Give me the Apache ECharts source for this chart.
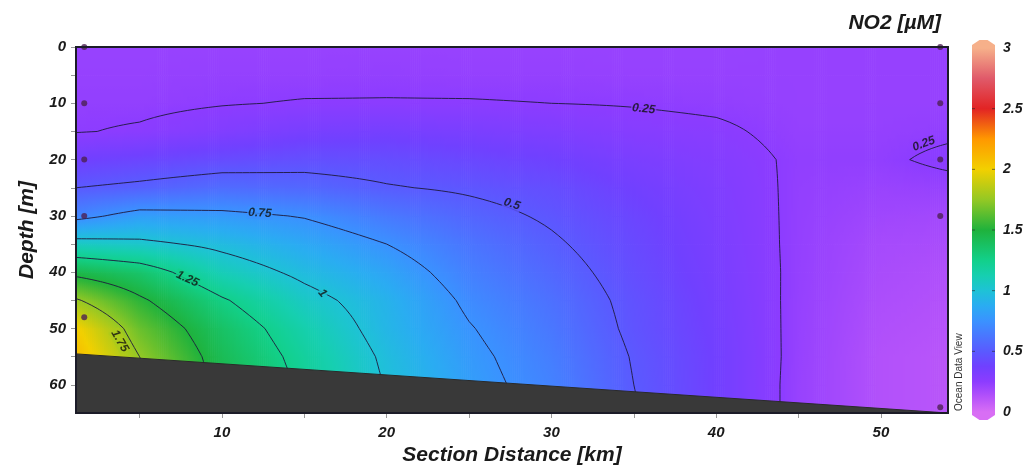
<!DOCTYPE html>
<html><head><meta charset="utf-8">
<script src="https://cdn.jsdelivr.net/npm/echarts@6/dist/echarts.min.js"></script>
<style>html,body{margin:0;padding:0;background:#fff}#c{width:1028px;height:466px}</style>
</head><body><div id="c"></div>
<script>
// ---- data ----
const distances = [1.14, 5, 10, 15, 20, 25, 30, 35, 40, 45, 50, 54.07];   // km
const depths = [0, 5, 10, 15, 20, 25, 30, 35, 40, 45, 50, 55, 60, 65];   // m
// NO2 [µM], one row per depth, one column per distance
const no2 = [
  [0.215,0.215,0.215,0.215,0.215,0.215,0.215,0.215,0.215,0.22, 0.22, 0.22],
  [0.22, 0.22, 0.225,0.225,0.23, 0.225,0.225,0.22, 0.22, 0.22, 0.22, 0.22],
  [0.23, 0.23, 0.245,0.255,0.255,0.255,0.25, 0.245,0.235,0.22, 0.22, 0.22],
  [0.245,0.26, 0.30, 0.34, 0.35, 0.33, 0.31, 0.28, 0.265,0.225,0.225,0.235],
  [0.37, 0.40, 0.43, 0.45, 0.44, 0.41, 0.38, 0.33, 0.29, 0.235,0.235,0.27],
  [0.50, 0.53, 0.58, 0.56, 0.51, 0.48, 0.44, 0.37, 0.31, 0.23, 0.21, 0.22],
  [0.70, 0.81, 0.79, 0.74, 0.64, 0.55, 0.48, 0.40, 0.32, 0.228,0.19, 0.18],
  [1.07, 1.04, 0.96, 0.86, 0.75, 0.62, 0.52, 0.42, 0.33, 0.226,0.17, 0.16],
  [1.45, 1.35, 1.10, 0.96, 0.84, 0.67, 0.56, 0.44, 0.34, 0.225,0.16, 0.14],
  [1.77, 1.53, 1.27, 1.06, 0.91, 0.72, 0.60, 0.46, 0.35, 0.222,0.15, 0.13],
  [2.02, 1.66, 1.37, 1.14, 0.93, 0.76, 0.63, 0.47, 0.36, 0.22, 0.14, 0.12],
  [2.10, 1.75, 1.42, 1.19, 0.97, 0.79, 0.66, 0.49, 0.37, 0.218,0.13, 0.11],
  [2.10, 1.80, 1.45, 1.22, 0.99, 0.81, 0.68, 0.50, 0.37, 0.215,0.13, 0.11],
  [2.10, 1.82, 1.47, 1.24, 1.01, 0.83, 0.70, 0.51, 0.37, 0.215,0.13, 0.11]
];
const contourLevels = [0.25, 0.5, 0.75, 1, 1.25, 1.5, 1.75];
// [text, km, depth, rotation in degrees]
const contourLabels = [
  ['0.25', 35.6, 11.0, -6],
  ['0.25', 52.6, 17.2, 20],
  ['0.5', 27.6, 27.9, -18],
  ['0.75', 12.3, 29.5, -3],
  ['1', 16.1, 43.7, -50],
  ['1.25', 7.9, 41.2, -25],
  ['1.75', 3.8, 52.2, -60]
];
const bathyKm = [1.14, 54.07];
const bathyDepth = [54.5, 65];
const stationKm = [1.64, 53.6];
const stationDepths = [[0, 10, 20, 30, 48], [0, 10, 20, 30, 64]];
const xTickValues = [5, 10, 15, 20, 25, 30, 35, 40, 45, 50];
const xLabelValues = [10, 20, 30, 40, 50];
const yTickValues = [0, 5, 10, 15, 20, 25, 30, 35, 40, 45, 50, 55, 60];
const yLabelValues = [0, 10, 20, 30, 40, 50, 60];
const cbarValues = [0, 0.125, 0.25, 0.375, 0.5, 0.625, 0.75, 0.875, 1.0, 1.125, 1.25, 1.5, 1.75, 2.0, 2.25, 2.5, 2.75, 3.0];
const cbarColors = ['#d86ef4','#b452fa','#8c3cff','#7040ff','#5a5aff','#4a76ff','#3a92ff','#2aacf2','#1ec2d6','#16cfb0','#12d08a','#1fb23c','#94c824','#f2d000','#ff9800','#e22424','#e05a6a','#f6b08a'];
const cbarTicks = [0, 0.5, 1, 1.5, 2, 2.5, 3];

// ---- helpers ----
const FONT = 'Liberation Sans';
function hex(c){return [parseInt(c.slice(1,3),16),parseInt(c.slice(3,5),16),parseInt(c.slice(5,7),16)];}
const cbarRGB = cbarColors.map(hex);
function cmap(v){
  const n = cbarValues.length;
  v = Math.max(cbarValues[0], Math.min(cbarValues[n-1], v));
  let k = 0; while (k < n-2 && v > cbarValues[k+1]) k++;
  const t = (v - cbarValues[k]) / (cbarValues[k+1] - cbarValues[k]);
  const a = cbarRGB[k], b = cbarRGB[k+1];
  return 'rgb(' + Math.round(a[0]+(b[0]-a[0])*t) + ',' + Math.round(a[1]+(b[1]-a[1])*t) + ',' + Math.round(a[2]+(b[2]-a[2])*t) + ')';
}
function findIdx(arr, v){ let i = 0; while (i < arr.length-2 && v > arr[i+1]) i++; return i; }
function fieldAt(km, d){
  const i = findIdx(distances, km), j = findIdx(depths, d);
  const tx = (km - distances[i]) / (distances[i+1]-distances[i]);
  const ty = (d - depths[j]) / (depths[j+1]-depths[j]);
  const a = no2[j][i], b = no2[j][i+1], c = no2[j+1][i], e = no2[j+1][i+1];
  return (a*(1-tx)+b*tx)*(1-ty) + (c*(1-tx)+e*tx)*ty;
}

const cells = [];
for (let j = 0; j < depths.length-1; j++)
  for (let i = 0; i < distances.length-1; i++)
    cells.push([distances[i], depths[j], distances[i+1], depths[j+1], i, j]);

function renderField(params, api){
  const i = api.value(4), j = api.value(5);
  const p0 = api.coord([api.value(0), api.value(1)]);
  const p1 = api.coord([api.value(2), api.value(3)]);
  const v00 = no2[j][i], v10 = no2[j][i+1], v01 = no2[j+1][i], v11 = no2[j+1][i+1];
  const w = p1[0]-p0[0], h = p1[1]-p0[1];
  const n = Math.max(1, Math.ceil(w/2));
  const m = 6;
  const children = [];
  for (let k = 0; k < n; k++){
    const tx = (k+0.5)/n;
    const top = v00+(v10-v00)*tx, bot = v01+(v11-v01)*tx;
    const stops = [];
    for (let s = 0; s <= m; s++){ const t = s/m; stops.push({offset:t, color:cmap(top+(bot-top)*t)}); }
    children.push({type:'rect', silent:true,
      shape:{x:p0[0]+k*w/n, y:p0[1], width:w/n+0.7, height:h+0.7},
      style:{fill:new echarts.graphic.LinearGradient(0,0,0,1,stops)}});
  }
  return {type:'group', children};
}

function renderContours(params, api){
  const i = api.value(4), j = api.value(5);
  const p0 = api.coord([api.value(0), api.value(1)]);
  const p1 = api.coord([api.value(2), api.value(3)]);
  const v00 = no2[j][i], v10 = no2[j][i+1], v01 = no2[j+1][i], v11 = no2[j+1][i+1];
  const NX = 12, NY = 6;
  const val = [], px = [], py = [];
  for (let b = 0; b <= NY; b++){
    val.push([]);
    const ty = b/NY;
    py.push(p0[1]+(p1[1]-p0[1])*ty);
    for (let a = 0; a <= NX; a++){
      const tx = a/NX;
      if (b === 0) px.push(p0[0]+(p1[0]-p0[0])*tx);
      val[b].push((v00*(1-tx)+v10*tx)*(1-ty) + (v01*(1-tx)+v11*tx)*ty);
    }
  }
  let path = '';
  const seg = (P, Q) => { path += 'M'+P[0].toFixed(2)+' '+P[1].toFixed(2)+'L'+Q[0].toFixed(2)+' '+Q[1].toFixed(2); };
  for (const L of contourLevels){
    for (let b = 0; b < NY; b++) for (let a = 0; a < NX; a++){
      const A = val[b][a], B = val[b][a+1], C = val[b+1][a+1], D = val[b+1][a];
      const idx = (A>=L?8:0)|(B>=L?4:0)|(C>=L?2:0)|(D>=L?1:0);
      if (idx === 0 || idx === 15) continue;
      const x0 = px[a], x1 = px[a+1], y0 = py[b], y1 = py[b+1];
      const top = () => [x0+(x1-x0)*(L-A)/(B-A), y0];
      const right = () => [x1, y0+(y1-y0)*(L-B)/(C-B)];
      const bottom = () => [x0+(x1-x0)*(L-D)/(C-D), y1];
      const left = () => [x0, y0+(y1-y0)*(L-A)/(D-A)];
      switch(idx){
        case 1: case 14: seg(left(), bottom()); break;
        case 2: case 13: seg(bottom(), right()); break;
        case 3: case 12: seg(left(), right()); break;
        case 4: case 11: seg(top(), right()); break;
        case 5: seg(left(), top()); seg(bottom(), right()); break;
        case 6: case 9: seg(top(), bottom()); break;
        case 7: case 8: seg(left(), top()); break;
        case 10: seg(top(), right()); seg(left(), bottom()); break;
      }
    }
  }
  if (!path) return null;
  return {type:'path', silent:true, shape:{pathData:path},
    style:{fill:null, stroke:'rgba(30,25,60,0.9)', lineWidth:1}};
}

function renderBathy(params, api){
  const pts = bathyKm.map((k, i) => api.coord([k, bathyDepth[i]]));
  const maxD = depths[depths.length-1];
  pts.push(api.coord([distances[distances.length-1], maxD]));
  pts.push(api.coord([distances[0], maxD]));
  return {type:'polygon', silent:true, shape:{points:pts}, style:{fill:'#393939', stroke:'#2a2a2a', lineWidth:1}};
}

function renderFrame(params, api){
  const a = api.coord([distances[0], depths[0]]);
  const b = api.coord([distances[distances.length-1], depths[depths.length-1]]);
  return {type:'rect', silent:true, shape:{x:a[0], y:a[1], width:b[0]-a[0], height:b[1]-a[1]},
    style:{fill:null, stroke:'#1c1c28', lineWidth:2}};
}

function renderCbar(params, api){
  const pb = api.coord([0, cbarValues[0]]);
  const pt = api.coord([1, cbarValues[cbarValues.length-1]]);
  const x0 = pb[0], x1 = pt[0], yB = pb[1], yT = pt[1], xc = (x0+x1)/2;
  const span = cbarValues[cbarValues.length-1] - cbarValues[0];
  const stops = cbarValues.map((v, k) => ({offset: 1 - (v - cbarValues[0])/span, color: cbarColors[k]})).reverse();
  const children = [
    {type:'rect', shape:{x:x0, y:yT, width:x1-x0, height:yB-yT}, style:{fill:new echarts.graphic.LinearGradient(0,0,0,1,stops)}},
    {type:'polygon', shape:{points:[[x0,yT+0.5],[x0,yT-3],[xc-4,yT-8],[xc+4,yT-8],[x1,yT-3],[x1,yT+0.5]]}, style:{fill:cbarColors[cbarColors.length-1]}},
    {type:'polygon', shape:{points:[[x0,yB-0.5],[x0,yB+3],[xc-4,yB+8],[xc+4,yB+8],[x1,yB+3],[x1,yB-0.5]]}, style:{fill:cbarColors[0]}}
  ];
  cbarTicks.forEach(v => {
    const y = api.coord([0, v])[1];
    if (v > cbarValues[0] && v < cbarValues[cbarValues.length-1]) {
      children.push({type:'line', shape:{x1:x0, y1:y, x2:x0+3, y2:y}, style:{stroke:'rgba(40,40,40,0.6)', lineWidth:1}});
      children.push({type:'line', shape:{x1:x1-3, y1:y, x2:x1, y2:y}, style:{stroke:'rgba(40,40,40,0.6)', lineWidth:1}});
    }
  });
  return {type:'group', children};
}

const stationData = [];
stationKm.forEach((k, s) => stationDepths[s].forEach(d => stationData.push([k, d])));

const labelStyle = {fontFamily:FONT, fontStyle:'italic', fontWeight:'bold', color:'#1a1a1a'};

const option = {
  animation:false,
  backgroundColor:'#ffffff',
  title:{text:'NO2 [µM]', right:82, top:8,
    textStyle:{fontFamily:FONT, fontStyle:'italic', fontWeight:'bold', fontSize:21, color:'#1a1a1a'}},
  grid:[
    {left:76, top:47, width:872, height:366, containLabel:false, outerBoundsMode:'none'},
    {left:972, top:48, width:23, height:364, containLabel:false, outerBoundsMode:'none'}
  ],
  xAxis:[
    {type:'value', gridIndex:0, min:distances[0], max:distances[distances.length-1], position:'bottom',
      axisLine:{show:false, onZero:false}, splitLine:{show:false},
      axisTick:{show:true, customValues:xTickValues, length:5, lineStyle:{color:'#999'}},
      axisLabel:Object.assign({customValues:xLabelValues, fontSize:15, margin:12}, labelStyle),
      name:'Section Distance [km]', nameLocation:'middle', nameGap:32,
      nameTextStyle:{fontFamily:FONT, fontStyle:'italic', fontWeight:'bold', fontSize:21, color:'#1a1a1a'}},
    {type:'value', gridIndex:1, min:0, max:1, show:false, axisLine:{onZero:false}}
  ],
  yAxis:[
    {type:'value', gridIndex:0, min:0, max:depths[depths.length-1], inverse:true, position:'left',
      axisLine:{show:false, onZero:false}, splitLine:{show:false},
      axisTick:{show:true, customValues:yTickValues, length:5, lineStyle:{color:'#999'}},
      axisLabel:Object.assign({customValues:yLabelValues, fontSize:15, margin:10}, labelStyle),
      name:'Depth [m]', nameLocation:'middle', nameGap:38, nameRotate:90,
      nameTextStyle:{fontFamily:FONT, fontStyle:'italic', fontWeight:'bold', fontSize:21, color:'#1a1a1a'}},
    {type:'value', gridIndex:1, min:0, max:3, position:'right',
      axisLine:{show:false, onZero:false}, splitLine:{show:false}, axisTick:{show:false},
      axisLabel:Object.assign({customValues:cbarTicks, fontSize:14, margin:8}, labelStyle)}
  ],
  series:[
    {type:'custom', name:'field', xAxisIndex:0, yAxisIndex:0, data:cells, renderItem:renderField,
      encode:{x:[0,2], y:[1,3]}, silent:true, z:1},
    {type:'custom', name:'contours', xAxisIndex:0, yAxisIndex:0, data:cells, renderItem:renderContours,
      encode:{x:[0,2], y:[1,3]}, silent:true, z:2},
    {type:'custom', name:'bottom', xAxisIndex:0, yAxisIndex:0, data:[[bathyKm[0], bathyDepth[0]]], renderItem:renderBathy,
      silent:true, z:3},
    {type:'scatter', name:'labels', xAxisIndex:0, yAxisIndex:0, symbolSize:0, silent:true, z:4,
      data:contourLabels.map(l => ({name:l[0], value:[l[1], l[2]],
        label:{rotate:l[3], backgroundColor:cmap(fieldAt(l[1], l[2]))}})),
      label:{show:true, position:'inside', formatter:'{b}', fontFamily:FONT, fontStyle:'italic', fontWeight:'bold',
        fontSize:12, color:'#111', padding:[0,1]}},
    {type:'scatter', name:'stations', xAxisIndex:0, yAxisIndex:0, data:stationData, symbolSize:6, silent:true, z:5,
      clip:false, itemStyle:{color:'#4c2152'}},
    {type:'custom', name:'frame', xAxisIndex:0, yAxisIndex:0, data:[[distances[0], depths[0]]], renderItem:renderFrame,
      silent:true, z:6, clip:false},
    {type:'custom', name:'colorbar', xAxisIndex:1, yAxisIndex:1, data:[[0, 3]], renderItem:renderCbar, silent:true, z:1}
  ],
  graphic:[
    {type:'text', x:959, y:411, rotation:Math.PI/2, z:20,
      style:{text:'Ocean Data View', font:'10px "Liberation Sans"', fill:'#333', textAlign:'left', textVerticalAlign:'middle'}}
  ]
};
const chart = echarts.init(document.getElementById('c'), null, {renderer:'canvas'});
chart.setOption(option);
</script>
</body></html>
